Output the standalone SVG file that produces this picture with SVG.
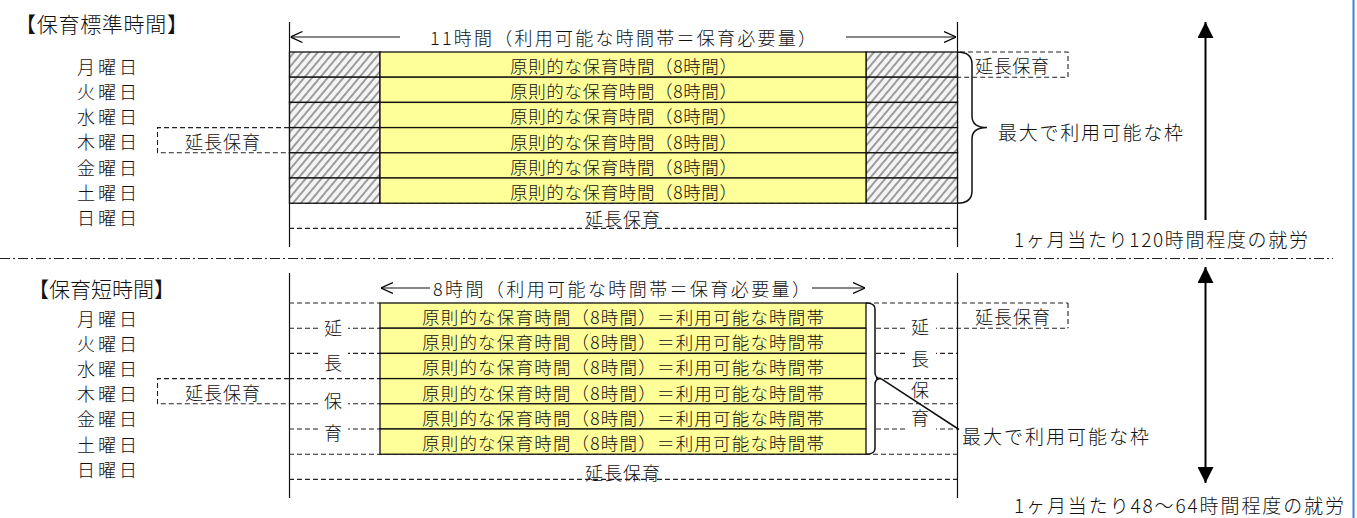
<svg xmlns="http://www.w3.org/2000/svg" width="1357" height="518" viewBox="0 0 1357 518">
<style>
text{font-family:"Noto Sans CJK JP","Noto Sans",sans-serif;font-weight:300;fill:#111;dominant-baseline:central}
.t18{font-size:18px}
.t19{font-size:19px}
.t21{font-size:21px}
.ye{font-size:17.5px}
.dash{stroke:#222;stroke-width:1.1;stroke-dasharray:5 3;fill:none}
.solid{stroke:#111;stroke-width:1.2;fill:none}
.yel{fill:#ffff99;stroke:#111;stroke-width:1.3}
.hat{fill:url(#hatch);stroke:#111;stroke-width:1.3}
.ax{stroke:#111;stroke-width:1.2;fill:none}
.wb{fill:#fff}
</style>
<defs>
<pattern id="hatch" patternUnits="userSpaceOnUse" width="6" height="6" patternTransform="rotate(40)">
<rect width="6" height="6" fill="#f4f4f4"/>
<line x1="1" y1="0" x2="1" y2="6" stroke="#777" stroke-width="1.4"/>
</pattern>
<marker id="tri" viewBox="0 0 10 10" refX="10" refY="5" markerWidth="16" markerHeight="16" markerUnits="userSpaceOnUse" orient="auto">
<path d="M0,0 L10,5 L0,10 Z" fill="#000"/>
</marker>
<marker id="open" viewBox="0 0 12 12" refX="12" refY="6" markerWidth="12" markerHeight="12" markerUnits="userSpaceOnUse" orient="auto">
<path d="M0,0.5 L12,6 L0,11.5" fill="none" stroke="#000" stroke-width="1.2"/>
</marker>
</defs>
<rect width="1357" height="518" fill="#fff"/>
<line x1="1353.5" y1="0" x2="1353.5" y2="518" stroke="#3b86d8" stroke-width="2"/>
<line x1="0" y1="258.5" x2="1333" y2="258.5" stroke="#222" stroke-width="1.1" stroke-dasharray="10 3 2 3"/>

<!-- ============ TOP SECTION ============ -->
<g id="top-frame">
<line class="solid" x1="289.5" y1="22" x2="289.5" y2="247"/>
<line class="solid" x1="957.5" y1="22" x2="957.5" y2="247"/>
<line class="dash" x1="289" y1="203.2" x2="957" y2="203.2"/>
<line class="dash" x1="289" y1="228.4" x2="957" y2="228.4"/>
</g>
<g id="top-title"><text class="t21" x="15" y="23" textLength="173" lengthAdjust="spacing">【保育標準時間】</text></g>
<g id="top-days" class="t18">
<text x="77" y="66" textLength="60" lengthAdjust="spacing">月曜日</text>
<text x="77" y="91" textLength="60" lengthAdjust="spacing">火曜日</text>
<text x="77" y="116" textLength="60" lengthAdjust="spacing">水曜日</text>
<text x="77" y="141" textLength="60" lengthAdjust="spacing">木曜日</text>
<text x="77" y="166.5" textLength="60" lengthAdjust="spacing">金曜日</text>
<text x="77" y="191.5" textLength="60" lengthAdjust="spacing">土曜日</text>
<text x="77" y="217" textLength="60" lengthAdjust="spacing">日曜日</text>
</g>
<g id="top-rows">
<rect class="hat" x="289.5" y="52" width="90.5" height="25.2"/>
<rect class="hat" x="289.5" y="77.2" width="90.5" height="25.2"/>
<rect class="hat" x="289.5" y="102.4" width="90.5" height="25.2"/>
<rect class="hat" x="289.5" y="127.6" width="90.5" height="25.2"/>
<rect class="hat" x="289.5" y="152.8" width="90.5" height="25.2"/>
<rect class="hat" x="289.5" y="178" width="90.5" height="25.2"/>
<rect class="hat" x="866" y="52" width="91.5" height="25.2"/>
<rect class="hat" x="866" y="77.2" width="91.5" height="25.2"/>
<rect class="hat" x="866" y="102.4" width="91.5" height="25.2"/>
<rect class="hat" x="866" y="127.6" width="91.5" height="25.2"/>
<rect class="hat" x="866" y="152.8" width="91.5" height="25.2"/>
<rect class="hat" x="866" y="178" width="91.5" height="25.2"/>
<rect class="yel" x="380" y="52" width="486" height="25.2"/>
<rect class="yel" x="380" y="77.2" width="486" height="25.2"/>
<rect class="yel" x="380" y="102.4" width="486" height="25.2"/>
<rect class="yel" x="380" y="127.6" width="486" height="25.2"/>
<rect class="yel" x="380" y="152.8" width="486" height="25.2"/>
<rect class="yel" x="380" y="178" width="486" height="25.2"/>
<g class="ye">
<text x="510" y="65.5" textLength="227" lengthAdjust="spacing">原則的な保育時間（8時間）</text>
<text x="510" y="90.7" textLength="227" lengthAdjust="spacing">原則的な保育時間（8時間）</text>
<text x="510" y="115.9" textLength="227" lengthAdjust="spacing">原則的な保育時間（8時間）</text>
<text x="510" y="141.1" textLength="227" lengthAdjust="spacing">原則的な保育時間（8時間）</text>
<text x="510" y="166.3" textLength="227" lengthAdjust="spacing">原則的な保育時間（8時間）</text>
<text x="510" y="191.5" textLength="227" lengthAdjust="spacing">原則的な保育時間（8時間）</text>
</g>
</g>
<g id="top-sunday"><text class="t18" x="585" y="218" textLength="75" lengthAdjust="spacing">延長保育</text></g>
<g id="top-left-box">
<path class="dash" d="M289,127.6 H157.5 V152.8 H289"/>
<text class="t18" x="185" y="140.5" textLength="75" lengthAdjust="spacing">延長保育</text>
</g>
<g id="top-right-box">
<path class="dash" d="M960,52 H1068 V77.2 H957"/>
<text class="t18" x="975" y="65" textLength="74" lengthAdjust="spacing">延長保育</text>
</g>
<g id="top-span"><text class="t18" x="430" y="37" textLength="386" lengthAdjust="spacing">11時間（利用可能な時間帯＝保育必要量）</text></g>
<g id="top-max"><text class="t19" x="998" y="131" textLength="185" lengthAdjust="spacing">最大で利用可能な枠</text></g>
<g id="top-work"><text class="t19" x="1014" y="238" textLength="294" lengthAdjust="spacing">1ヶ月当たり120時間程度の就労</text></g>

<!-- ============ BOTTOM SECTION ============ -->
<g id="bottom-frame">
<line class="solid" x1="289.5" y1="273" x2="289.5" y2="498"/>
<line class="solid" x1="957.5" y1="273" x2="957.5" y2="498"/>
<line class="dash" x1="289" y1="303" x2="380" y2="303"/>
<line class="dash" x1="866" y1="303" x2="1068" y2="303"/>
<line class="dash" x1="289" y1="328.2" x2="380" y2="328.2"/>
<line class="dash" x1="289" y1="353.4" x2="380" y2="353.4"/>
<line class="dash" x1="289" y1="378.6" x2="380" y2="378.6"/>
<line class="dash" x1="289" y1="403.8" x2="380" y2="403.8"/>
<line class="dash" x1="289" y1="429" x2="380" y2="429"/>
<line class="dash" x1="876" y1="328.2" x2="1068" y2="328.2"/>
<line class="dash" x1="876" y1="353.4" x2="957" y2="353.4"/>
<line class="dash" x1="876" y1="378.6" x2="957" y2="378.6"/>
<line class="dash" x1="876" y1="403.8" x2="957" y2="403.8"/>
<line class="dash" x1="876" y1="429" x2="957" y2="429"/>
<line class="dash" x1="289" y1="454.2" x2="957" y2="454.2"/>
<line class="dash" x1="289" y1="479.4" x2="957" y2="479.4"/>
<path class="dash" d="M1068,303 V328.2"/>
</g>
<g id="bottom-title"><text class="t21" x="28" y="288" textLength="147" lengthAdjust="spacing">【保育短時間】</text></g>
<g id="bottom-days" class="t18">
<text x="77" y="317.5" textLength="60" lengthAdjust="spacing">月曜日</text>
<text x="77" y="342.7" textLength="60" lengthAdjust="spacing">火曜日</text>
<text x="77" y="367.9" textLength="60" lengthAdjust="spacing">水曜日</text>
<text x="77" y="393.1" textLength="60" lengthAdjust="spacing">木曜日</text>
<text x="77" y="418.3" textLength="60" lengthAdjust="spacing">金曜日</text>
<text x="77" y="443.5" textLength="60" lengthAdjust="spacing">土曜日</text>
<text x="77" y="468.7" textLength="60" lengthAdjust="spacing">日曜日</text>
</g>
<g id="bottom-left-ext" class="t18">
<rect class="wb" x="318" y="315" width="30" height="24"/>
<rect class="wb" x="318" y="350" width="30" height="24"/>
<rect class="wb" x="318" y="388" width="30" height="24"/>
<rect class="wb" x="318" y="420" width="30" height="24"/>
<text x="324" y="327">延</text>
<text x="324" y="362">長</text>
<text x="324" y="400">保</text>
<text x="324" y="432">育</text>
</g>
<g id="bottom-right-ext" class="t18">
<rect class="wb" x="906" y="314" width="30" height="24"/>
<rect class="wb" x="906" y="346" width="30" height="24"/>
<rect class="wb" x="906" y="380" width="30" height="22"/>
<rect class="wb" x="906" y="406" width="30" height="24"/>
<text x="911" y="326">延</text>
<text x="911" y="358">長</text>
<text x="911" y="389">保</text>
<text x="911" y="417">育</text>
</g>
<g id="bottom-rows">
<rect class="yel" x="380" y="303" width="486" height="25.2"/>
<rect class="yel" x="380" y="328.2" width="486" height="25.2"/>
<rect class="yel" x="380" y="353.4" width="486" height="25.2"/>
<rect class="yel" x="380" y="378.6" width="486" height="25.2"/>
<rect class="yel" x="380" y="403.8" width="486" height="25.2"/>
<rect class="yel" x="380" y="429" width="486" height="25.2"/>
<g class="ye">
<text x="422" y="316.5" textLength="402" lengthAdjust="spacing">原則的な保育時間（8時間）＝利用可能な時間帯</text>
<text x="422" y="341.7" textLength="402" lengthAdjust="spacing">原則的な保育時間（8時間）＝利用可能な時間帯</text>
<text x="422" y="366.9" textLength="402" lengthAdjust="spacing">原則的な保育時間（8時間）＝利用可能な時間帯</text>
<text x="422" y="392.1" textLength="402" lengthAdjust="spacing">原則的な保育時間（8時間）＝利用可能な時間帯</text>
<text x="422" y="417.3" textLength="402" lengthAdjust="spacing">原則的な保育時間（8時間）＝利用可能な時間帯</text>
<text x="422" y="442.5" textLength="402" lengthAdjust="spacing">原則的な保育時間（8時間）＝利用可能な時間帯</text>
</g>
</g>
<g id="bottom-sunday"><text class="t18" x="585" y="471.5" textLength="75" lengthAdjust="spacing">延長保育</text></g>
<g id="bottom-left-box">
<path class="dash" d="M289,378.6 H157.5 V403.8 H289"/>
<text class="t18" x="185" y="391.5" textLength="75" lengthAdjust="spacing">延長保育</text>
</g>
<g id="bottom-right-box"><text class="t18" x="975" y="316" textLength="75" lengthAdjust="spacing">延長保育</text></g>
<g id="bottom-span"><text class="t18" x="433" y="288" textLength="377" lengthAdjust="spacing">8時間（利用可能な時間帯＝保育必要量）</text></g>
<g id="bottom-max"><text class="t19" x="962" y="435" textLength="187" lengthAdjust="spacing">最大で利用可能な枠</text></g>
<g id="bottom-work"><text class="t19" x="1014" y="504" textLength="330" lengthAdjust="spacing">1ヶ月当たり48～64時間程度の就労</text></g>

<!-- ============ CONNECTORS ============ -->
<g id="connectors">
<line class="ax" x1="400" y1="37" x2="290.5" y2="37" marker-end="url(#open)"/>
<line class="ax" x1="846" y1="37" x2="956" y2="37" marker-end="url(#open)"/>
<line class="ax" x1="430" y1="288" x2="381" y2="288" marker-end="url(#open)"/>
<line class="ax" x1="812" y1="288" x2="865" y2="288" marker-end="url(#open)"/>
<path d="M957,52 Q972,52 972,64 L972,116 Q972,127.6 987,127.6 Q972,127.6 972,139 L972,191 Q972,203.2 957,203.2" fill="none" stroke="#111" stroke-width="1.5"/>
<path d="M866,303 Q875,303 875,309 L875,372.6 Q875,378.6 881,378.6 Q875,378.6 875,384.6 L875,448.2 Q875,454.2 866,454.2" fill="none" stroke="#111" stroke-width="1.5"/>
<line x1="881" y1="378.6" x2="959" y2="429.5" stroke="#111" stroke-width="1.5"/>
<line x1="1205.5" y1="220" x2="1205.5" y2="22" stroke="#000" stroke-width="2" marker-end="url(#tri)"/>
<line x1="1205.5" y1="280" x2="1205.5" y2="267" stroke="#000" stroke-width="2" marker-end="url(#tri)"/>
<line x1="1205.5" y1="276" x2="1205.5" y2="483" stroke="#000" stroke-width="2" marker-end="url(#tri)"/>
</g>
</svg>
